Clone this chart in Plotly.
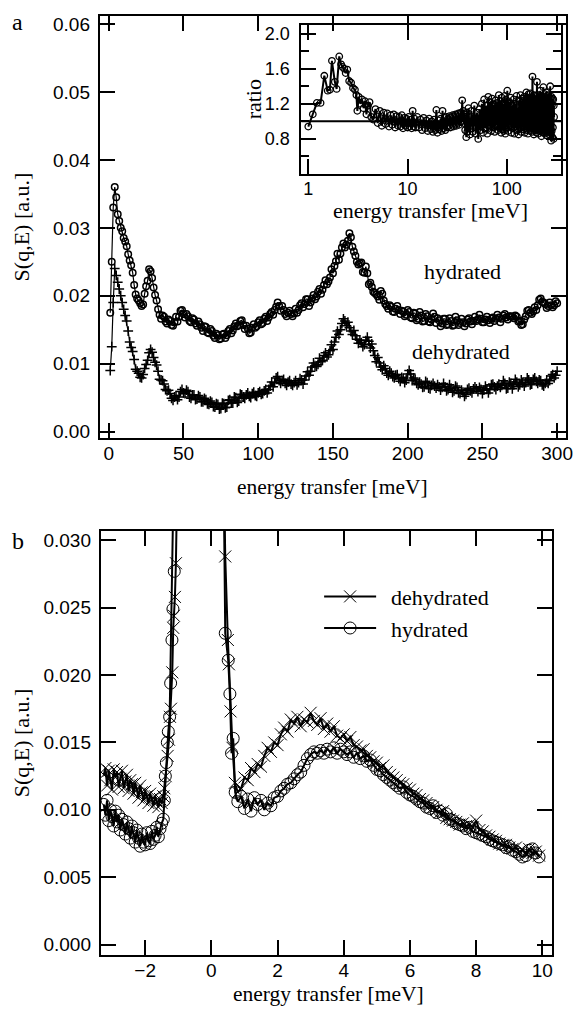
import numpy as np
import plotly.graph_objects as go

# ---------------- panel a : S(q,E) vs energy transfer, 0-300 meV ----------------
# readings at E = 1..10 and even E from 12 to 300
E_a_even = [1, 2, 3, 4, 5, 6, 7, 8, 9, 10] + list(range(12, 301, 2))
# readings at odd E from 11 to 299
E_a_odd = list(range(11, 300, 2))

# S(q,E) in units of 1e-3
hyd_a_even_1e3 = [17.5, 25.0, 33.0, 36.0, 34.5, 32.0, 31.0, 30.0, 29.5, 28.5,
                  27.3, 25.2, 23.4, 20.2, 19.3, 18.5, 20.3, 22.2, 23.6, 21.2,
                  19.3, 17.2, 17.1, 16.2, 16.5, 15.7, 16.1, 16.2, 17.8, 17.3,
                  17.3, 16.3, 16.7, 15.9, 16.2, 15.3, 15.5, 14.6, 15.1, 14.1,
                  14.4, 13.6, 14.3, 13.8, 14.8, 14.5, 15.5, 15.5, 16.3, 15.7,
                  15.6, 14.5, 15.3, 15.3, 16.1, 15.8, 16.6, 16.3, 17.3, 17.2,
                  18.4, 18.5, 18.5, 17.3, 17.5, 17.3, 17.4, 17.5, 18.6, 18.3,
                  19.5, 18.5, 19.6, 19.5, 20.6, 20.3, 21.6, 21.7, 22.7, 23.3,
                  25.1, 25.3, 27.1, 27.1, 28.1, 28.6, 26.5, 25.0, 24.8, 23.5,
                  24.3, 21.7, 21.3, 20.4, 19.9, 20.7, 19.3, 18.5, 18.6, 17.7,
                  18.1, 17.9, 17.8, 17.0, 17.9, 16.8, 17.5, 16.4, 17.6, 16.2,
                  17.3, 16.2, 16.5, 16.9, 16.7, 15.5, 16.6, 15.7, 16.7, 15.6,
                  16.9, 15.7, 16.6, 15.5, 16.5, 16.2, 16.3, 16.3, 17.2, 16.1,
                  16.5, 16.4, 16.6, 16.3, 17.2, 16.1, 17.1, 16.8, 17.0, 16.9,
                  17.1, 16.2, 15.7, 16.5, 17.8, 17.5, 17.7, 17.9, 19.4, 19.1,
                  18.8, 18.5, 18.6, 18.6, 18.9]
hyd_a_odd_1e3 = [28.0, 26.1, 24.5, 21.6, 19.6, 18.9, 18.7, 21.4, 23.9, 22.6,
                 20.1, 18.0, 16.6, 16.9, 15.9, 16.3, 15.6, 16.9, 16.9, 17.9,
                 16.8, 17.0, 16.1, 16.5, 15.6, 15.8, 14.8, 15.4, 14.5, 14.8,
                 13.8, 14.2, 13.7, 14.4, 14.2, 15.1, 14.9, 15.9, 15.7, 16.4,
                 15.1, 15.2, 14.6, 15.8, 15.5, 16.4, 16.0, 16.9, 16.8, 17.6,
                 17.9, 19.0, 17.8, 17.9, 17.0, 17.8, 17.0, 18.1, 17.9, 18.9,
                 18.8, 19.5, 19.0, 20.1, 19.9, 21.0, 20.9, 22.3, 22.1, 23.9,
                 24.4, 26.2, 26.2, 27.7, 27.5, 29.2, 27.2, 25.9, 24.6, 24.9,
                 23.4, 23.3, 21.9, 20.6, 20.2, 19.4, 20.3, 18.8, 18.1, 18.4,
                 17.6, 18.5, 17.3, 17.7, 17.2, 17.6, 16.7, 17.4, 16.6, 17.1,
                 16.3, 17.0, 16.1, 17.4, 16.0, 16.4, 15.9, 16.6, 15.8, 16.3,
                 15.7, 16.4, 16.0, 16.1, 15.9, 16.7, 15.8, 16.9, 16.5, 16.6,
                 16.1, 16.9, 16.0, 16.8, 16.6, 16.8, 16.6, 17.3, 16.5, 17.0,
                 16.7, 16.9, 16.3, 15.8, 17.0, 17.9, 17.3, 18.3, 18.6, 19.6,
                 19.0, 18.2, 19.0, 18.3, 19.2]

dehyd_a_even_1e3 = [9.0, 12.5, 19.0, 24.0, 23.0, 22.0, 21.0, 20.0, 19.0, 18.0,
                    16.3, 13.2, 11.8, 9.2, 8.6, 7.9, 9.3, 10.5, 12.1, 10.9,
                    9.8, 7.7, 7.5, 6.2, 6.1, 4.9, 5.1, 4.7, 5.9, 5.7,
                    6.1, 5.1, 5.4, 4.7, 5.3, 4.4, 4.9, 4.1, 4.5, 3.7,
                    4.1, 3.3, 4.2, 3.5, 4.6, 4.2, 5.1, 4.3, 5.5, 5.1,
                    5.4, 5.2, 5.6, 5.3, 5.7, 5.5, 6.0, 5.7, 6.7, 6.6,
                    7.9, 7.5, 7.5, 7.1, 7.3, 7.0, 7.2, 6.9, 7.8, 7.0,
                    8.2, 8.3, 9.5, 9.7, 9.9, 10.3, 11.2, 11.0, 11.9, 12.1,
                    13.9, 14.3, 15.9, 16.3, 16.1, 14.8, 14.9, 13.6, 13.5, 12.5,
                    13.4, 13.3, 12.9, 11.2, 10.9, 9.5, 9.7, 8.6, 8.9, 8.1,
                    8.3, 7.8, 8.0, 7.2, 8.5, 8.5, 7.9, 7.1, 7.3, 6.5,
                    7.4, 6.4, 6.8, 6.7, 6.9, 6.1, 7.1, 6.0, 6.9, 5.8,
                    6.7, 5.7, 6.1, 5.2, 6.2, 6.0, 6.3, 6.3, 6.5, 5.6,
                    6.7, 5.7, 6.9, 6.6, 6.7, 6.5, 7.5, 6.3, 7.3, 6.3,
                    7.7, 6.6, 7.6, 6.7, 7.9, 6.9, 7.7, 7.4, 7.6, 6.9,
                    7.1, 7.1, 8.2, 7.9, 8.9]
dehyd_a_odd_1e3 = [17.1, 14.8, 12.4, 10.6, 8.9, 8.0, 8.4, 9.9, 11.6, 11.7,
                   10.2, 8.9, 7.6, 7.0, 6.0, 5.6, 4.6, 5.3, 5.1, 6.2,
                   5.6, 5.9, 4.9, 5.4, 4.8, 5.1, 4.4, 4.7, 4.0, 4.3,
                   3.6, 4.0, 3.4, 4.1, 3.6, 4.7, 4.2, 5.0, 4.5, 5.4,
                   4.9, 5.7, 5.0, 5.8, 5.2, 5.9, 5.6, 6.2, 6.2, 7.3,
                   7.2, 8.1, 7.1, 7.7, 6.8, 7.5, 6.8, 7.5, 7.2, 7.6,
                   7.6, 8.8, 8.9, 10.1, 9.6, 10.8, 10.5, 11.6, 11.3, 12.8,
                   13.2, 14.8, 15.0, 16.6, 15.6, 15.3, 14.3, 14.1, 13.0, 13.1,
                   12.8, 13.9, 12.3, 11.9, 10.3, 10.1, 9.1, 9.3, 8.3, 8.6,
                   7.9, 8.4, 7.4, 7.8, 7.6, 9.0, 7.5, 7.7, 6.9, 7.0,
                   6.6, 7.2, 6.3, 7.1, 6.4, 6.6, 6.5, 6.6, 6.2, 6.4,
                   6.0, 6.5, 5.6, 5.8, 5.5, 6.4, 5.7, 6.6, 5.9, 6.2,
                   6.1, 6.3, 6.2, 7.0, 6.2, 7.0, 6.8, 7.1, 6.4, 7.1,
                   6.9, 7.3, 6.9, 7.2, 7.2, 7.6, 7.0, 7.9, 7.1, 7.5,
                   6.7, 7.6, 7.5, 8.4, 8.3]

# merge the two reading grids in order of energy
_hyd = sorted(zip(E_a_even + E_a_odd, hyd_a_even_1e3 + hyd_a_odd_1e3))
_deh = sorted(zip(E_a_even + E_a_odd, dehyd_a_even_1e3 + dehyd_a_odd_1e3))
E_a = [e for e, _ in _hyd]
S_a_hyd = [v * 1e-3 for _, v in _hyd]
S_a_dehyd = [v * 1e-3 for _, v in _deh]

# ---------------- inset : ratio hydrated / dehydrated (log energy axis) ----------------
ratio_E_low = [1.00, 1.11, 1.22, 1.33, 1.45, 1.57, 1.65, 1.73, 1.85, 1.93,
               2.05, 2.14, 2.21, 2.30, 2.38, 2.47, 2.58, 2.70, 2.82, 2.95,
               3.05, 3.12, 3.22, 3.35, 3.48, 3.60, 3.72, 3.85, 4.00, 4.14, 4.30]
ratio_low = [0.94, 1.08, 1.21, 1.21, 1.52, 1.35, 1.36, 1.69, 1.45, 1.37,
             1.74, 1.65, 1.62, 1.60, 1.55, 1.59, 1.46, 1.44, 1.38, 1.36,
             1.30, 1.12, 1.28, 1.20, 1.25, 1.15, 1.23, 1.08, 1.18, 1.22, 1.05]
ratio_E_mid1 = list(np.round(np.arange(4.5, 12.01, 0.25), 2))
ratio_mid1 = [1.02, 1.14, 0.98, 1.12, 0.95, 1.10, 0.97, 1.09, 0.94, 1.07,
              0.96, 1.08, 0.93, 1.06, 0.95, 1.05, 0.94, 1.07, 0.92, 1.04,
              0.95, 1.03, 0.93, 1.05, 0.94, 1.02, 0.92, 1.12, 0.94, 1.03,
              0.93]
ratio_E_mid2 = list(np.round(np.arange(12.5, 40.01, 0.5), 2))
ratio_mid2 = [1.05, 0.93, 1.02, 0.90, 1.04, 0.92, 1.01, 0.89, 1.03, 0.91,
              1.00, 0.88, 1.02, 0.90, 1.13, 0.87, 1.01, 0.91, 1.03, 0.89,
              1.12, 0.92, 1.04, 0.90, 1.05, 0.93, 1.03, 0.95, 1.06, 0.93,
              1.04, 0.96, 1.07, 0.94, 1.05, 0.97, 1.08, 0.95, 1.06, 0.98,
              1.09, 0.96, 1.07, 0.99, 1.10, 1.00, 1.24, 1.05, 1.12, 0.98,
              1.08, 0.90, 1.05, 0.82, 1.10, 0.88]
ratio_E_high1 = list(np.round(np.arange(41, 101.1, 1.5), 2))
ratio_high1 = [1.15, 0.85, 1.12, 0.88, 1.18, 0.86, 1.10, 0.80, 1.14, 0.90,
               1.20, 0.87, 1.25, 0.92, 1.18, 0.86, 1.28, 0.94, 1.22, 0.89,
               1.26, 0.93, 1.19, 0.88, 1.24, 0.95, 1.21, 0.90, 1.30, 0.92,
               1.23, 0.87, 1.27, 0.91, 1.20, 0.89, 1.29, 0.86, 1.25, 0.93,
               1.35]
ratio_E_high2 = list(range(103, 300, 2))
ratio_high2 = [0.89, 1.22, 0.95, 1.27, 0.87, 1.18, 0.92, 1.25, 0.86, 1.20,
               0.94, 1.29, 0.90, 1.16, 0.85, 1.24, 0.93, 1.30, 0.88, 1.21,
               0.96, 1.26, 0.91, 1.28, 0.87, 1.23, 0.95, 1.33, 0.90, 1.27,
               0.86, 1.31, 0.93, 1.25, 0.89, 1.32, 0.97, 1.22, 0.88, 1.51,
               0.92, 1.26, 0.85, 1.30, 0.95, 1.29, 0.90, 1.24, 0.87, 1.45,
               0.94, 1.30, 0.86, 1.27, 0.92, 1.30, 0.89, 1.35, 0.95, 1.28,
               0.83, 1.25, 0.88, 1.20, 0.91, 1.39, 0.87, 1.26, 0.93, 1.31,
               0.86, 1.24, 0.90, 1.33, 0.84, 1.29, 0.92, 1.22, 0.88, 1.30,
               0.95, 1.27, 0.85, 1.21, 0.91, 1.40, 0.87, 1.25, 0.78, 1.28,
               0.89, 1.19, 0.82, 1.26, 0.93, 1.25, 0.80, 1.18, 1.05]
ratio_E = ratio_E_low + ratio_E_mid1 + ratio_E_mid2 + ratio_E_high1 + ratio_E_high2
ratio_vals = ratio_low + ratio_mid1 + ratio_mid2 + ratio_high1 + ratio_high2

# ---------------- panel b : low-energy region ----------------
E_b_left = list(np.round(np.arange(-3.25, -1.44, 0.05), 2))
E_b_right = list(np.round(np.arange(0.8, 9.95, 0.1), 2))

dehyd_b_left_1e3 = [12.6, 13.1, 11.8, 12.9, 12.2, 11.5, 13.0, 12.4, 12.8, 11.7,
                    12.3, 12.9, 11.6, 12.1, 12.6, 11.4, 12.2, 11.9, 11.2, 12.0,
                    11.5, 10.9, 11.8, 11.3, 10.7, 11.4, 11.0, 10.5, 11.2, 10.8,
                    10.3, 11.0, 10.6, 10.2, 10.8, 10.5, 11.0]
dehyd_b_peak_E = [-1.42, -1.38, -1.32, -1.28, -1.25, -1.22, -1.18, -1.15, -1.13, -1.10,
                  -1.07, -0.95, 0.0, 0.35, 0.42, 0.50, 0.53, 0.58, 0.64, 0.71]
dehyd_b_peak_1e3 = [11.6, 12.5, 14.0, 15.2, 16.9, 17.5, 20.2, 23.5, 24.4, 25.8,
                    28.3, 40.0, 200.0, 40.0, 28.8, 22.6, 20.8, 17.3, 14.6, 12.0]
dehyd_b_right_1e3 = [11.3, 11.6, 12.4, 12.2, 13.1, 12.8, 13.4, 13.2, 14.0, 14.6,
                     14.3, 15.0, 14.8, 15.6, 16.1, 15.8, 16.7, 16.4, 16.9, 16.2,
                     16.7, 16.5, 17.2, 16.6, 16.3, 16.8, 16.0, 16.4, 15.8, 16.2,
                     15.5, 15.3, 15.6, 15.1, 15.4, 14.8, 14.7, 14.4, 14.5, 14.0,
                     13.9, 13.6, 13.5, 13.1, 13.3, 12.8, 12.6, 12.4, 12.2, 12.0,
                     11.9, 11.6, 11.5, 11.2, 11.1, 10.8, 10.7, 10.5, 10.3, 10.2,
                     10.0, 9.8, 9.9, 9.4, 9.3, 9.2, 9.1, 8.9, 9.0, 8.8,
                     8.9, 8.7, 9.2, 8.5, 8.4, 8.1, 8.0, 7.8, 7.7, 7.5,
                     7.4, 7.4, 7.2, 7.1, 7.2, 6.9, 7.0, 6.8, 7.1, 6.8,
                     6.9, 6.6]

hyd_b_left_1e3 = [10.4, 9.6, 10.7, 9.2, 10.0, 9.5, 8.8, 9.9, 9.1, 9.6,
                  8.5, 9.3, 8.9, 8.2, 9.1, 8.6, 7.9, 8.8, 8.3, 7.6,
                  8.5, 7.9, 7.3, 8.2, 7.6, 7.4, 8.3, 7.7, 7.5, 8.4,
                  7.8, 8.1, 8.7, 8.0, 8.6, 9.0, 9.3]
hyd_b_peak_E = [-1.42, -1.39, -1.36, -1.33, -1.30, -1.26, -1.23, -1.19, -1.16, -1.12,
                -0.95, 0.0, 0.35, 0.42, 0.51, 0.56, 0.61, 0.66, 0.72]
hyd_b_peak_1e3 = [10.7, 12.5, 13.5, 15.0, 15.8, 16.9, 19.4, 22.6, 24.9, 27.7,
                  40.0, 200.0, 40.0, 23.1, 21.1, 18.6, 14.2, 15.3, 11.3]
hyd_b_right_1e3 = [10.6, 11.0, 10.1, 10.8, 9.9, 10.9, 10.4, 10.7, 10.0, 10.5,
                   10.3, 10.9, 11.0, 11.4, 11.6, 11.9, 12.0, 12.3, 12.6, 12.8,
                   13.3, 13.8, 14.1, 14.3, 14.2, 14.4, 14.2, 14.5, 14.3, 14.6,
                   14.2, 14.5, 14.3, 14.1, 14.3, 13.9, 14.2, 13.8, 14.0, 13.6,
                   13.7, 13.3, 13.0, 12.9, 12.6, 12.4, 12.2, 12.0, 11.8, 11.6,
                   11.7, 11.3, 11.1, 11.0, 10.8, 10.6, 10.5, 10.2, 10.1, 10.3,
                   9.8, 9.9, 9.6, 9.7, 9.3, 9.2, 9.0, 8.9, 8.8, 8.6,
                   8.7, 8.4, 8.3, 8.2, 8.1, 8.0, 7.8, 7.7, 7.6, 7.5,
                   7.4, 7.2, 7.3, 7.0, 6.9, 6.7, 6.5, 6.6, 7.0, 7.1,
                   6.8, 6.5]

E_b_dehyd = E_b_left + dehyd_b_peak_E + E_b_right
S_b_dehyd = [v * 1e-3 for v in dehyd_b_left_1e3 + dehyd_b_peak_1e3 + dehyd_b_right_1e3]
E_b_hyd = E_b_left + hyd_b_peak_E + E_b_right
S_b_hyd = [v * 1e-3 for v in hyd_b_left_1e3 + hyd_b_peak_1e3 + hyd_b_right_1e3]

# tick labels
xa_ticks = [0, 50, 100, 150, 200, 250, 300]
ya_ticks = [0.00, 0.01, 0.02, 0.03, 0.04, 0.05, 0.06]
ya_text = ["0.00", "0.01", "0.02", "0.03", "0.04", "0.05", "0.06"]
xi_ticks = [1, 10, 100]
yi_ticks = [0.8, 1.2, 1.6, 2.0]
yi_text = ["0.8", "1.2", "1.6", "2.0"]
yi_minor = [0.6, 1.0, 1.4, 1.8]
xb_ticks = [-2, 0, 2, 4, 6, 8, 10]
xb_text = ["\u22122", "0", "2", "4", "6", "8", "10"]
yb_ticks = [0.000, 0.005, 0.010, 0.015, 0.020, 0.025, 0.030]
yb_text = ["0.000", "0.005", "0.010", "0.015", "0.020", "0.025", "0.030"]

W, H = 583, 1018
SANS = "Liberation Sans"
SERIF = "Liberation Serif"


def px_x(p):
    return p / W


def px_y(p):
    return 1 - p / H


fig = go.Figure()

fig.add_trace(go.Scatter(
    x=E_a, y=S_a_hyd, mode="lines+markers",
    line=dict(color="black", width=1.2),
    marker=dict(symbol="circle-open", size=6.5, color="black", line=dict(width=1.5)),
    xaxis="x", yaxis="y", showlegend=False, name="hydrated"))
fig.add_trace(go.Scatter(
    x=E_a, y=S_a_dehyd, mode="lines+markers",
    line=dict(color="black", width=1.2),
    marker=dict(symbol="cross-thin-open", size=7, color="black", line=dict(width=1.5)),
    xaxis="x", yaxis="y", showlegend=False, name="dehydrated"))

fig.add_trace(go.Scatter(
    x=ratio_E, y=ratio_vals, mode="lines+markers",
    line=dict(color="black", width=2),
    marker=dict(symbol="circle-open", size=6.5, color="black", line=dict(width=1.3)),
    xaxis="x2", yaxis="y2", showlegend=False, name="ratio"))

fig.add_trace(go.Scatter(
    x=E_b_dehyd, y=S_b_dehyd, mode="lines+markers", name="\u00a0\u2009dehydrated",
    line=dict(color="black", width=2),
    marker=dict(symbol="x-thin-open", size=12, color="black", line=dict(width=1, color="black")),
    xaxis="x3", yaxis="y3"))
fig.add_trace(go.Scatter(
    x=E_b_hyd, y=S_b_hyd, mode="lines+markers", name="\u00a0\u2009hydrated",
    line=dict(color="black", width=2),
    marker=dict(symbol="circle-open", size=12, color="black", line=dict(width=1, color="black")),
    xaxis="x3", yaxis="y3"))

common = dict(showline=True, linecolor="black", linewidth=2, mirror="ticks",
              ticks="inside", ticklen=15, tickwidth=2, tickcolor="black",
              showgrid=False, zeroline=False,
              tickfont=dict(family=SANS, size=19, color="black"))

fig.update_layout(
    width=W, height=H, autosize=False,
    margin=dict(l=0, r=0, t=0, b=0),
    paper_bgcolor="white", plot_bgcolor="rgba(0,0,0,0)",
    xaxis=dict(common, domain=[px_x(101), px_x(573)], anchor="y",
               range=[-6, 306], tickmode="array", tickvals=xa_ticks,
               ticklabelstandoff=-3),
    yaxis=dict(common, domain=[px_y(439), px_y(14)], anchor="x",
               range=[-0.001, 0.0612], tickmode="array", tickvals=ya_ticks,
               ticktext=ya_text, ticklabelstandoff=4),
    xaxis2=dict(common, type="log", domain=[px_x(305), px_x(568)], anchor="y2",
                range=[-0.07, 2.547], tickmode="array", tickvals=xi_ticks,
                ticktext=["1", "10", "100"],
                tickfont=dict(family=SANS, size=18, color="black"),
                ticklabelstandoff=-3),
    yaxis2=dict(common, domain=[px_y(173), px_y(23)], anchor="x2",
                range=[0.4, 2.1], tickmode="array", tickvals=yi_ticks,
                ticktext=yi_text,
                tickfont=dict(family=SANS, size=18, color="black"),
                minor=dict(tickmode="array", tickvals=yi_minor, ticks="inside",
                           ticklen=8, tickwidth=2, tickcolor="black"),
                ticklabelstandoff=6),
    xaxis3=dict(common, domain=[px_x(102), px_x(559)], anchor="y3",
                range=[-3.34, 10.3], tickmode="array", tickvals=xb_ticks,
                ticktext=xb_text, ticklabelstandoff=-3),
    yaxis3=dict(common, domain=[px_y(959), px_y(532)], anchor="x3",
                range=[-0.0008, 0.0307], tickmode="array", tickvals=yb_ticks,
                ticktext=yb_text, ticklabelstandoff=4),
    legend=dict(x=px_x(323), y=px_y(577), xanchor="left", yanchor="top",
                bgcolor="rgba(0,0,0,0)", borderwidth=0, itemwidth=52,
                font=dict(family=SERIF, size=22, color="black")),
    shapes=[dict(type="line", xref="x2 domain", yref="y2", x0=0, x1=1, y0=1.0, y1=1.0,
                 line=dict(color="black", width=2))],
)


def ann(text, x, y, size=22, angle=0, family=SERIF):
    fig.add_annotation(text=text, x=px_x(x), y=px_y(y), xref="paper", yref="paper",
                       showarrow=False, xanchor="center", yanchor="middle",
                       textangle=angle, font=dict(family=family, size=size, color="black"))


ann("a", 18, 20, size=24)
ann("b", 18, 542, size=24)
ann("S(q,E) [a.u.]", 22, 226, size=22, angle=-90)
ann("S(q,E) [a.u.]", 22, 745, size=22, angle=-90)
ann("energy transfer [meV]", 337, 488, size=21.5)
ann("energy transfer [meV]", 332, 998, size=21.5)
ann("energy transfer [meV]", 436, 210, size=22)
ann("ratio", 257, 98, size=22, angle=-90)
ann("hydrated", 468, 271, size=22)
ann("dehydrated", 467, 352, size=22)

fig.write_html("out.html", config={"displayModeBar": False})
